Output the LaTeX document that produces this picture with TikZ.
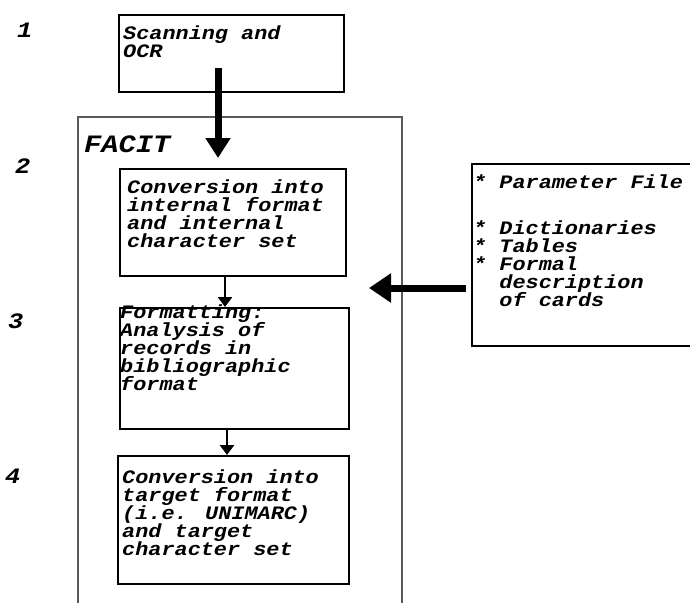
\documentclass[tikz,border=0pt]{standalone}
\usepackage{fontspec}
\newfontfamily\cour[FakeStretch=1.15]{Liberation Mono}
\usetikzlibrary{arrows.meta}
\newcommand\mlines[1]{\vtop{\baselineskip=18pt\lineskiplimit=-1000pt\lineskip=0pt\let\\\cr\halign{##\hfil\cr#1\crcr}}}
\definecolor{framegray}{HTML}{5A5A5A}
\tikzset{
  box/.style={draw=black, line width=2pt, inner sep=0pt, anchor=north west},
  txt/.style={anchor=base west, inner sep=0pt, font=\cour\bfseries\itshape\fontsize{19}{18}\selectfont},
  num/.style={anchor=base west, inner sep=0pt, font=\cour\bfseries\itshape\fontsize{22}{22}\selectfont},
  frame/.style={draw=framegray, line width=1.2pt},
  bigarrow/.style={line width=7pt, -{Triangle[length=20pt,width=24pt]}},
  sidearrow/.style={line width=7pt, -{Triangle[length=22pt,width=28pt]}},
  smallarrow/.style={line width=2.5pt, -{Triangle[length=10pt,width=14pt]}}
}
\begin{document}
\begin{tikzpicture}[x=1pt,y=-1pt]
\useasboundingbox (0,0) rectangle (690,603);
% FACIT frame (open at the bottom)
\draw[frame] (78,603) -- (78,117) -- (402,117) -- (402,603);
% boxes
\node[box, minimum width=225pt, minimum height=77pt] (b1) at (118,14) {};
\node[box, minimum width=226pt, minimum height=107pt] (b2) at (119,168) {};
\node[box, minimum width=229pt, minimum height=121pt] (b3) at (119,307) {};
\node[box, minimum width=231pt, minimum height=128pt] (b4) at (117,455) {};
\node[box, minimum width=240pt, minimum height=182pt] (pf) at (471,163) {};
% texts
\node[txt] (t1) at (123,39) {\mlines{Scanning and\\OCR}};
\node[txt] (t2) at (127,193) {\mlines{Conversion into\\internal format\\and internal\\character set}};
\node[txt] (t3) at (120,318) {\mlines{Formatting:\\Analysis of\\records in\\bibliographic\\format}};
\node[txt] (t4) at (122,483) {\mlines{Conversion into\\target format\\(i.e. UNIMARC)\\and target\\character set}};
\node[txt] (t5) at (473,188) {\mlines{* Parameter File}};
\node[txt] (t6) at (473,234) {\mlines{* Dictionaries\\* Tables\\* Formal\\\phantom{**}description\\\phantom{**}of cards}};
\node[anchor=base west, inner sep=0pt, font=\cour\bfseries\itshape\fontsize{25}{30}\selectfont] (facit) at (84,152) {FACIT};
% step numbers
\node[num] (n1) at (17,37) {1};
\node[num] (n2) at (15,173) {2};
\node[num] (n3) at (8,328) {3};
\node[num] (n4) at (5,483) {4};
% arrows
\coordinate (a1s) at (218,68);
\coordinate (a1e) at (218,158);
\draw[bigarrow] (a1s) -- (a1e);
\draw[smallarrow] ([xshift=-8pt]b2.south) -- ([xshift=-8pt]b2.south |- b3.north);
\draw[smallarrow] ([xshift=-7.5pt]b3.south) -- ([xshift=-7.5pt]b3.south |- b4.north);
\coordinate (a2s) at (466,288);
\coordinate (a2e) at (369,288);
\draw[sidearrow] (a2s) -- (a2e);
\end{tikzpicture}
\end{document}
